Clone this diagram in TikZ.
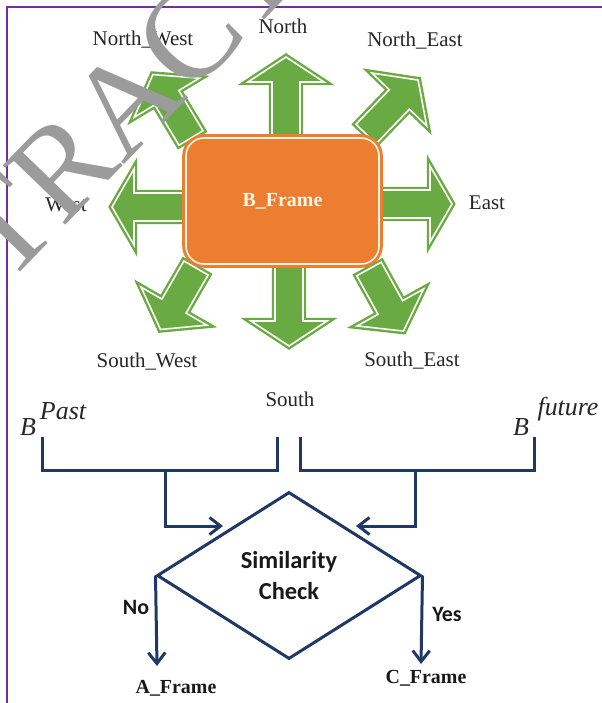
\documentclass[tikz,border=0pt]{standalone}
\usepackage{fontspec}
\setmainfont{Liberation Serif}
\newfontfamily\calibfont{Carlito}
\usetikzlibrary{shapes.geometric,arrows.meta}

\definecolor{frameviolet}{RGB}{112,48,160}
\definecolor{arrowgreen}{RGB}{106,170,66}
\definecolor{boxorange}{RGB}{237,125,49}
\definecolor{flownavy}{RGB}{31,56,100}
\definecolor{stampgray}{RGB}{155,155,155}
\definecolor{cream}{RGB}{255,246,228}

\tikzset{
  greenarrow/.style={fill=arrowgreen, draw=arrowgreen, double=white,
    line width=2.4bp, double distance=1.6bp, line join=miter, miter limit=6},
  dirlabel/.style={font=\fontsize{21}{21}\selectfont, inner sep=0pt, text=black!85},
  flow/.style={draw=flownavy, line width=3bp, line join=miter},
  flowarrow/.style={flow, -{Straight Barb[length=11bp,width=17bp]}},
  superlbl/.style={font=\itshape\fontsize{26}{26}\selectfont, inner sep=0pt, text=black!85},
  framelbl/.style={font=\bfseries\fontsize{20}{20}\selectfont, inner sep=0pt, text=black!90},
  answer/.style={font=\calibfont\bfseries\fontsize{22}{22}\selectfont, inner sep=0pt, text=black!90},
}

% block arrow: x, y of the shaft start, direction, shaft length, head length
\newcommand\dirarrow[5]{%
  \begin{scope}[shift={(#1,#2)}, rotate=#3]
    \draw[greenarrow] (0,-14) -- (#4,-14) -- (#4,-38) -- ({#4+#5},0)
      -- (#4,38) -- (#4,14) -- (0,14) -- cycle;
  \end{scope}}

\begin{document}
\begin{tikzpicture}[x=1bp, y=-1bp]
  \useasboundingbox (0,0) rectangle (602,703);
  \fill[white] (0,0) rectangle (602,703);

  % page frame
  \draw[frameviolet, line width=1.8bp] (7,703) -- (7,7) -- (602,7);

  % eight direction arrows
  \dirarrow{286}{140}{90}{58}{25}
  \dirarrow{289}{262}{-90}{59}{25}
  \dirarrow{375}{204}{0}{55}{22}
  \dirarrow{190}{207}{180}{56}{22}
  \dirarrow{366}{134}{46}{48}{27}
  \dirarrow{191}{138}{121}{47}{27}
  \dirarrow{196}{268}{240}{44}{27}
  \dirarrow{369}{269}{-61}{44}{27}

  % central frame
  \node[draw=boxorange, double=cream, fill=boxorange, line width=3bp,
        double distance=1.6bp, rounded corners=18bp, minimum width=193bp,
        minimum height=126bp, inner sep=0pt,
        font=\bfseries\fontsize{20}{20}\selectfont, text=cream]
        (bframe) at (282.5,201) {B\_Frame};

  % direction labels
  \node[dirlabel] (lnw) at (143,40) {North\_West};
  \node[dirlabel] (ln)  at (283,26) {North};
  \node[dirlabel] (lne) at (415,41) {North\_East};
  \node[dirlabel] (lw)  at (66,205) {West};
  \node[dirlabel] (le)  at (487,203) {East};
  \node[dirlabel] (lsw) at (147,362) {South\_West};
  \node[dirlabel] (lse) at (412,361) {South\_East};
  \node[dirlabel] (ls)  at (290,399) {South};

  % past and future frame labels
  \node[superlbl] (bpast) at (28,427) {B};
  \node[superlbl] (past) at (63,411) {Past};
  \node[superlbl] (bfut) at (521,427) {B};
  \node[superlbl] (fut) at (568,409) {future};

  % similarity check
  \node[draw=flownavy, line width=3bp, diamond, aspect=1.58,
        minimum width=264bp, minimum height=167bp, inner sep=0pt,
        align=center, font=\calibfont\bfseries\fontsize{24.5}{31}\selectfont,
        text=black!90] (sim) at (289,575.5) {Similarity\\Check};

  % brackets collecting the two frame sets
  \coordinate (pa) at (42,437);
  \coordinate (pb) at (277,437);
  \coordinate (fa) at (300,437);
  \coordinate (fb) at (534,437);
  \coordinate (pm) at (165,470);
  \coordinate (fm) at (415,470);
  \coordinate (pin) at (223,526);
  \coordinate (fin) at (356,526);
  \draw[flow] (pa) -- (pa |- pm) -- (pb |- pm) -- (pb);
  \draw[flow] (fa) -- (fa |- fm) -- (fb |- fm) -- (fb);
  \draw[flowarrow] (pm) |- (pin);
  \draw[flowarrow] (fm) |- (fin);

  % outcomes
  \coordinate (noend) at (157,666);
  \coordinate (yesend) at (421,664);
  \draw[flowarrow] (sim.west) -- (noend);
  \draw[flowarrow] (sim.east) -- (yesend);
  \node[answer] (no) at (136,607) {No};
  \node[answer] (yes) at (447,614) {Yes};
  \node[framelbl] (aframe) at (176,688) {A\_Frame};
  \node[framelbl] (cframe) at (426,678) {C\_Frame};

  % stamp across the upper left
  \node[text=stampgray, font=\fontsize{132}{132}\selectfont, rotate=46,
        anchor=base, inner sep=0pt] (stamp) at (159,129) {RETRACTED};
\end{tikzpicture}
\end{document}
